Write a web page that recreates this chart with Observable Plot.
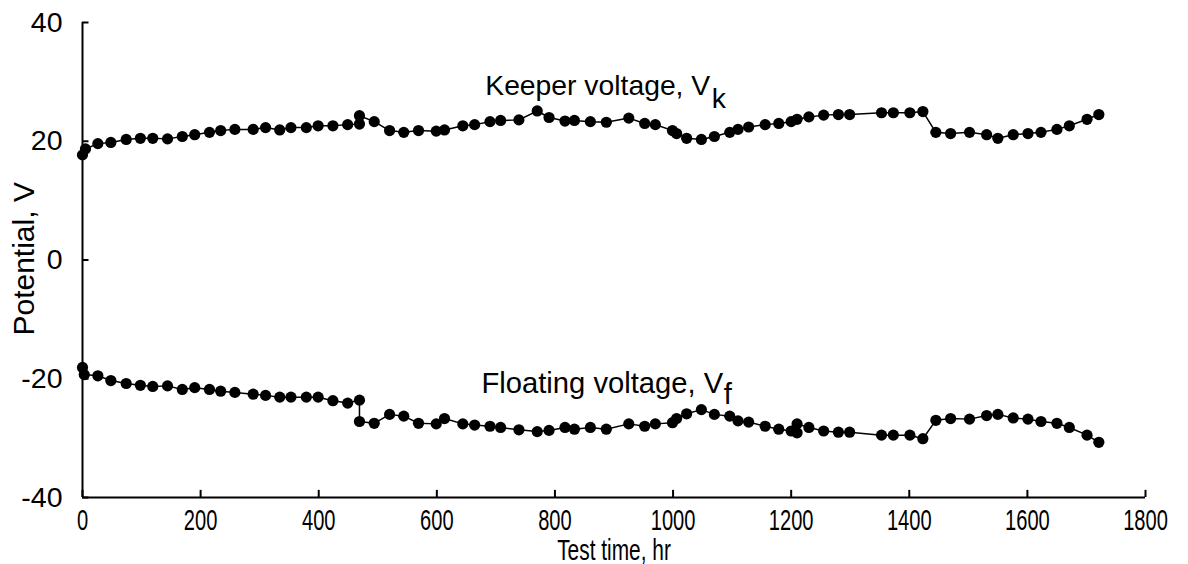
<!DOCTYPE html>
<html>
<head>
<meta charset="utf-8">
<script src="https://cdn.jsdelivr.net/npm/d3@7"></script>
<script src="https://cdn.jsdelivr.net/npm/@observablehq/plot@0.6"></script>
<style>
  html, body { margin: 0; padding: 0; background: #fff; }
  #chart svg { display: block; }
</style>
</head>
<body>
<div id="chart"></div>
<script>
// Keeper voltage series (test time in hr, potential in V)
const keeperHr = [0, 5, 26, 48, 74, 98, 119, 144, 169, 190, 215, 234, 258, 289, 310, 334, 353, 379, 399, 424, 449, 469, 469, 494, 520, 544, 569, 599, 613, 644, 664, 690, 708, 739, 770, 790, 817, 833, 860, 887, 925, 952, 970, 999, 1006, 1023, 1048, 1070, 1096, 1110, 1128, 1156, 1179, 1200, 1210, 1230, 1255, 1280, 1299, 1353, 1373, 1401, 1423, 1445, 1470, 1502, 1531, 1550, 1576, 1601, 1623, 1650, 1671, 1701, 1721];
const keeperV = [17.7, 18.7, 19.6, 19.8, 20.3, 20.5, 20.5, 20.4, 20.8, 21.1, 21.5, 21.8, 22.0, 22.0, 22.3, 21.9, 22.3, 22.3, 22.6, 22.6, 22.8, 22.9, 24.3, 23.3, 21.8, 21.5, 21.8, 21.7, 21.9, 22.6, 22.8, 23.3, 23.5, 23.6, 25.1, 24.0, 23.4, 23.5, 23.3, 23.2, 23.9, 23.0, 22.8, 21.8, 21.3, 20.5, 20.3, 20.8, 21.5, 22.0, 22.4, 22.8, 23.0, 23.3, 23.7, 24.1, 24.4, 24.5, 24.5, 24.8, 24.8, 24.8, 25.0, 21.5, 21.3, 21.5, 21.1, 20.5, 21.1, 21.3, 21.5, 22.0, 22.6, 23.7, 24.5];

// Floating voltage series
const floatHr = [0, 3, 26, 48, 74, 98, 119, 144, 169, 190, 215, 234, 258, 289, 310, 334, 353, 379, 399, 424, 449, 469, 469, 494, 520, 544, 569, 599, 613, 644, 664, 690, 708, 739, 770, 790, 817, 833, 860, 887, 925, 952, 970, 999, 1006, 1023, 1048, 1070, 1096, 1110, 1128, 1156, 1179, 1200, 1210, 1210, 1230, 1255, 1280, 1299, 1353, 1373, 1401, 1423, 1445, 1470, 1502, 1531, 1550, 1576, 1601, 1623, 1650, 1671, 1701, 1721];
const floatV = [-18.1, -19.3, -19.5, -20.3, -20.8, -21.1, -21.3, -21.2, -21.8, -21.5, -21.8, -22.1, -22.3, -22.6, -22.8, -23.1, -23.1, -23.1, -23.1, -23.7, -24.1, -23.6, -27.2, -27.5, -26.0, -26.3, -27.5, -27.6, -26.7, -27.6, -27.8, -28.0, -28.2, -28.6, -28.9, -28.7, -28.2, -28.5, -28.2, -28.5, -27.6, -28.0, -27.6, -27.4, -26.7, -25.9, -25.2, -26.0, -26.3, -27.1, -27.3, -28.0, -28.5, -28.8, -29.1, -27.6, -28.2, -28.8, -29.0, -29.0, -29.5, -29.5, -29.5, -30.1, -27.0, -26.7, -26.8, -26.2, -26.0, -26.6, -26.8, -27.2, -27.5, -28.2, -29.5, -30.7];

// Axis ticks
const xTicks = [0, 200, 400, 600, 800, 1000, 1200, 1400, 1600, 1800];
const yTicks = [-40, -20, 0, 20, 40];

// Labels
const xLabel = "Test time, hr";
const yLabel = "Potential, V";
const keeperLabel = "Keeper voltage, V";
const keeperSub = "k";
const floatLabel = "Floating voltage, V";
const floatSub = "f";

const keeper = keeperHr.map((h, i) => ({h, v: keeperV[i]}));
const floating = floatHr.map((h, i) => ({h, v: floatV[i]}));

const font = "Liberation Sans, Arial, sans-serif";

const chart = Plot.plot({
  width: 1188,
  height: 564,
  marginLeft: 82,
  marginRight: 43,
  marginTop: 22,
  marginBottom: 67,
  style: {fontFamily: font, fontSize: "28px", color: "#000", background: "#fff", overflow: "visible"},
  x: {domain: [0, 1800], axis: null},
  y: {domain: [-40, 40], axis: null},
  marks: [
    // axis lines
    Plot.ruleX([0], {y1: -40, y2: 40, stroke: "#000", strokeWidth: 2}),
    Plot.ruleY([-40], {x1: 0, x2: 1800, stroke: "#000", strokeWidth: 2}),
    // inward ticks
    Plot.ruleX(xTicks, {x: d => d, y1: -40, y2: -38.8, stroke: "#000", strokeWidth: 2}),
    Plot.ruleY(yTicks, {y: d => d, x1: 0, x2: 11, stroke: "#000", strokeWidth: 2}),
    // tick labels
    Plot.axisX({ticks: xTicks, tickSize: 0, tickPadding: 11, tickFormat: d => String(d), label: null, fontSize: 30, fill: "#000"}),
    Plot.axisY({ticks: yTicks, tickSize: 0, tickPadding: 20, tickFormat: d => String(d), label: null, fontSize: 28.5, fill: "#000"}),
    // axis titles
    Plot.text([xLabel], {frameAnchor: "bottom", lineAnchor: "middle", dy: 53, fontSize: 29, fill: "#000"}),
    Plot.text([yLabel], {x: -99, y: 0.2, rotate: -90, lineAnchor: "middle", fontSize: 30, fill: "#000"}),
    // series
    Plot.line(keeper, {x: "h", y: "v", stroke: "#000", strokeWidth: 1.5}),
    Plot.dot(keeper, {x: "h", y: "v", r: 5.6, fill: "#000", stroke: "none"}),
    Plot.line(floating, {x: "h", y: "v", stroke: "#000", strokeWidth: 1.5}),
    Plot.dot(floating, {x: "h", y: "v", r: 5.6, fill: "#000", stroke: "none"}),
    // series annotations
    Plot.text([keeperLabel], {x: 682, y: 29.4, textAnchor: "start", fontSize: 28.3, fill: "#000"}),
    Plot.text([keeperSub], {x: 1065.7, y: 27.2, textAnchor: "start", fontSize: 28.3, fill: "#000"}),
    Plot.text([floatLabel], {x: 675.6, y: -20.8, textAnchor: "start", fontSize: 29.2, fill: "#000"}),
    Plot.text([floatSub], {x: 1086, y: -22.7, textAnchor: "start", fontSize: 29.2, fill: "#000"})
  ]
});

document.getElementById("chart").appendChild(chart);

// Condense the x tick labels and x title horizontally (narrow lettering as in the reference)
const xTickStrings = new Set(xTicks.map(String));
function condense(el, s) {
  const L = el.getComputedTextLength();
  if (L > 0) {
    el.setAttribute("textLength", (L * s).toFixed(1));
    el.setAttribute("lengthAdjust", "spacingAndGlyphs");
  }
}
d3.select(chart).selectAll("text").each(function() {
  const s = this.textContent;
  const inXAxis = this.closest("g[aria-label='x-axis tick label']");
  if (inXAxis && xTickStrings.has(s)) condense(this, 0.67);
  else if (s === xLabel) condense(this, 0.72);
});
</script>
</body>
</html>
